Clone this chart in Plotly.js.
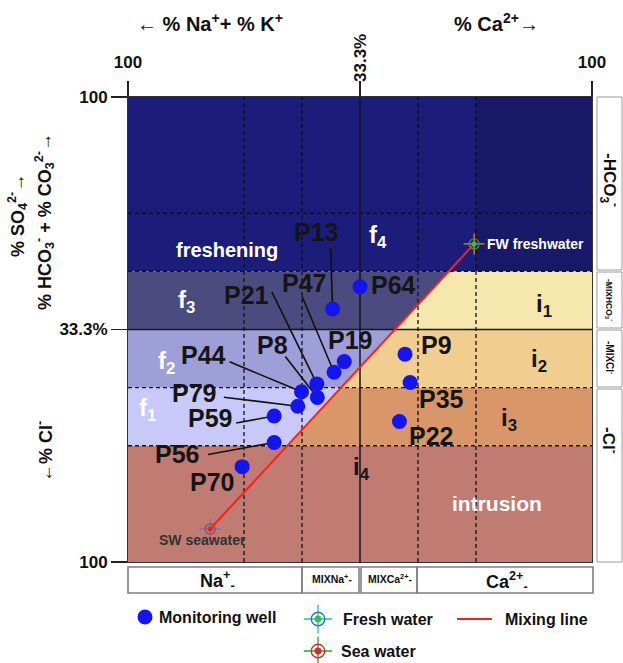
<!DOCTYPE html>
<html><head><meta charset="utf-8">
<script src="https://cdn.plot.ly/plotly-3.0.1.min.js"></script>
<style>html,body{margin:0;padding:0;background:#fff}</style>
</head><body><div id="chart" style="width:623px;height:663px"></div>
<script>
// ---------------- data (diagram position, 0-100) ----------------
const wells = ['P13','P64','P19','P47','P21','P8','P44','P79','P59','P56','P70','P9','P35','P22'];
const wellX = [44.1, 50.0, 46.6, 44.4, 40.7, 40.8, 37.4, 36.6, 31.5, 31.5, 24.6, 59.7, 60.8, 58.5];
const wellY = [54.4, 59.2, 43.1, 40.8, 38.3, 35.4, 36.6, 33.5, 31.4, 25.7, 20.5, 44.7, 38.6, 30.2];
const endNames = ['FW freshwater', 'SW seawater'];
const endX = [74.6, 17.7];
const endY = [68.4, 7.1];
const dashedLevels = [25, 37.5, 62.5, 75];
const solidLevel = 50;
const tickVals = [0, 50, 100];
const xTickText = ['100', '', '100'];
const yTickText = ['100', '33.3%', '100'];

// ---------------- layout helpers (label placement, px) ----------------
const labelDX = [-17, 33, 6, -30, -70, -45, -98, -104, -64, -97, -30, 31, 31, 32];
const labelDY = [-77, -2, -22, -89, -89, -52, -37, -13, 2, 12, 15, -9, 16, 14];
const leaderDX = [-2, null, null, -32, -45, -32, -72, -74, -38, -66, null, null, null, null];
const leaderDY = [-61, null, null, -76, -92, -41, -30, -9, 7, 12, null, null, null, null];

const FONT = 'Liberation Sans, Arial, Helvetica, sans-serif';
const C = {
  navy: '#1c1c7a', navyDark: '#19196a',
  f3: '#4b4b80', f2: '#9e9ed9', f1: '#c9c9f9',
  i1: '#f6e8ac', i2: '#f1cd8f', i3: '#d99668', i4: '#c07b73'
};

const uAt = v => endX[1] + (v - endY[1]) * (endX[0] - endX[1]) / (endY[0] - endY[1]);

const shapes = [];
function poly(pts, color) {
  shapes.push({type: 'path', xref: 'x', yref: 'y', layer: 'below',
    path: 'M' + pts.map(p => p[0] + ',' + p[1]).join(' L') + ' Z',
    fillcolor: color, line: {width: 0}});
}
poly([[0, 62.5], [0, 100], [75, 100], [75, 62.5]], C.navy);
poly([[75, 62.5], [75, 100], [100, 100], [100, 62.5]], C.navyDark);
[[50, 62.5, C.f3, C.i1], [37.5, 50, C.f2, C.i2], [25, 37.5, C.f1, C.i3]].forEach(b => {
  const lo = b[0], hi = b[1];
  poly([[0, lo], [0, hi], [uAt(hi), hi], [uAt(lo), lo]], b[2]);
  poly([[uAt(lo), lo], [uAt(hi), hi], [100, hi], [100, lo]], b[3]);
});
poly([[0, 0], [0, 25], [100, 25], [100, 0]], C.i4);

dashedLevels.forEach(l => {
  shapes.push({type: 'line', xref: 'x', yref: 'y', layer: 'below', x0: l, x1: l, y0: 0, y1: 100,
    line: {color: '#111', width: 1.3, dash: '4px,3px'}});
  shapes.push({type: 'line', xref: 'x', yref: 'y', layer: 'below', x0: 0, x1: 100, y0: l, y1: l,
    line: {color: '#111', width: 1.3, dash: '4px,3px'}});
});
shapes.push({type: 'line', xref: 'x', yref: 'y', layer: 'below', x0: solidLevel, x1: solidLevel, y0: 0, y1: 100,
  line: {color: '#151515', width: 1.5}});
shapes.push({type: 'line', xref: 'x', yref: 'y', layer: 'below', x0: 0, x1: 100, y0: solidLevel, y1: solidLevel,
  line: {color: '#151515', width: 1.5}});

// leader lines
wells.forEach((w, i) => {
  if (leaderDX[i] === null) return;
  shapes.push({type: 'line', xref: 'x', yref: 'y', layer: 'below',
    xsizemode: 'pixel', ysizemode: 'pixel', xanchor: wellX[i], yanchor: wellY[i],
    x0: leaderDX[i], y0: -leaderDY[i], x1: 0, y1: 0,
    line: {color: '#111', width: 1.6}});
});

// side boxes (pixel coords on x2/y2)
function box(x0, x1, y0, y1, col, w) {
  shapes.push({type: 'rect', xref: 'x2', yref: 'y2', x0: x0, x1: x1, y0: y0, y1: y1,
    line: {color: col, width: w}, fillcolor: 'rgba(0,0,0,0)'});
}
box(597, 622, 97, 270, '#9a9a9a', 1);
box(597, 622, 272, 328, '#9a9a9a', 1);
box(597, 622, 330, 387, '#9a9a9a', 1);
box(597, 622, 389, 562, '#9a9a9a', 1);
box(128, 302, 567, 593, '#808080', 1.6);
box(302, 359, 567, 593, '#808080', 1.6);
box(361, 417, 567, 593, '#808080', 1.6);
box(417, 593, 567, 593, '#808080', 1.6);
// legend mixing line
shapes.push({type: 'line', xref: 'x2', yref: 'y2', x0: 457, x1: 492, y0: 619, y1: 619,
  line: {color: '#ff1c1c', width: 2}});

// ---------------- traces ----------------
const traces = [];
traces.push({x: [endX[1], endX[0]], y: [endY[1], endY[0]], mode: 'lines',
  line: {color: '#ff1c1c', width: 2}, hoverinfo: 'skip', showlegend: false});
function target(x, y, xa, ya, ring, dot, s) {
  const base = {x: x, y: y, xaxis: xa, yaxis: ya, mode: 'markers', showlegend: false, hoverinfo: 'skip', cliponaxis: false};
  traces.push(Object.assign({}, base, {marker: {symbol: 'cross-thin-open', size: 15 * s, line: {color: ring, width: 1.3}}}));
  traces.push(Object.assign({}, base, {marker: {symbol: 'circle-open', size: 10 * s, line: {color: ring, width: 1.3}}}));
  traces.push(Object.assign({}, base, {marker: {symbol: 'circle', size: 5 * s, color: dot, line: {width: 0}}}));
}
target([endX[0]], [endY[0]], 'x', 'y', '#6f9c7c', '#2fbf5a', 1);
target([endX[1]], [endY[1]], 'x', 'y', '#8c6c6c', '#e02828', 1);
traces.push({x: wellX, y: wellY, text: wells, mode: 'markers', name: 'Monitoring well',
  marker: {color: '#1414f0', size: 15}, showlegend: false, cliponaxis: false});
// legend markers
traces.push({x: [145], y: [617], xaxis: 'x2', yaxis: 'y2', mode: 'markers', showlegend: false,
  hoverinfo: 'skip', marker: {color: '#1414f0', size: 15}});
target([318], [619], 'x2', 'y2', '#7fae8c', '#2fbf5a', 1.35);
target([318], [651], 'x2', 'y2', '#a07f7f', '#e02828', 1.35);

// ---------------- annotations ----------------
const ann = [];
function txt(x, y, text, size, color, extra) {
  ann.push(Object.assign({xref: 'x2', yref: 'y2', x: x, y: y, text: text, showarrow: false,
    font: {family: FONT, size: size, color: color, weight: 'bold'}}, extra || {}));
}
// titles
txt(210, 22, '← % Na<sup>+</sup>+ % K<sup>+</sup>', 20, '#111');
txt(496, 22, '% Ca<sup>2+</sup>→', 20, '#111');
txt(360, 58, '33.3%', 17, '#111', {textangle: -90});
txt(17, 216, '% SO<sub>4</sub><sup>2-</sup>→', 18, '#111', {textangle: -90});
txt(44, 222, '% HCO<sub>3</sub><sup>-</sup> + % CO<sub>3</sub><sup>2-</sup>→', 18, '#111', {textangle: -90});
txt(44, 452, '←% Cl<sup>-</sup>', 18, '#111', {textangle: -90});
// right boxes
txt(610, 180, '-HCO<sub>3</sub><sup>-</sup>', 17, '#111', {textangle: 90});
txt(610, 300, '-MIXHCO<sub>3</sub><sup>-</sup>', 8.5, '#111', {textangle: 90});
txt(610, 358, '-MIXCl<sup>-</sup>', 10, '#111', {textangle: 90});
txt(610, 440, '-Cl<sup>-</sup>', 17, '#111', {textangle: 90});
// bottom boxes
txt(217, 580, 'Na<sup>+</sup><sub>-</sub>', 18, '#111');
txt(332, 578, 'MIXNa<sup>+</sup>-', 10.5, '#111');
txt(390, 578, 'MIXCa<sup>2+</sup>-', 10.5, '#111');
txt(507, 581, 'Ca<sup>2+</sup><sub>-</sub>', 18, '#111');
// region labels
txt(227, 250, 'freshening', 20, '#ffffff');
txt(497, 503, 'intrusion', 21, '#ffffff');
txt(485, 244, endNames[0], 14, '#ffffff', {xanchor: 'left'});
txt(202, 540, endNames[1], 14, '#333333');
txt(378, 236, 'f<sub>4</sub>', 24, '#ffffff');
txt(186, 301, 'f<sub>3</sub>', 24, '#ffffff');
txt(166, 362, 'f<sub>2</sub>', 24, '#ffffff');
txt(147, 409, 'f<sub>1</sub>', 24, '#ffffff');
txt(544, 305, 'i<sub>1</sub>', 24, '#151515');
txt(539, 360, 'i<sub>2</sub>', 24, '#151515');
txt(509, 419, 'i<sub>3</sub>', 24, '#151515');
txt(361, 468, 'i<sub>4</sub>', 24, '#151515');
// legend texts
txt(157, 617, 'Monitoring well', 16, '#111', {xanchor: 'left'});
txt(341, 619, 'Fresh water', 16, '#111', {xanchor: 'left'});
txt(503, 619, 'Mixing line', 16, '#111', {xanchor: 'left'});
txt(339, 651, 'Sea water', 16, '#111', {xanchor: 'left'});
// well labels
wells.forEach((w, i) => {
  ann.push({xref: 'x', yref: 'y', x: wellX[i], y: wellY[i], text: w, showarrow: false,
    xshift: labelDX[i], yshift: -labelDY[i],
    font: {family: FONT, size: 25, color: '#151515', weight: 'bold'}});
});

const layout = {
  width: 623, height: 663,
  margin: {l: 0, r: 0, t: 0, b: 0},
  paper_bgcolor: '#ffffff', plot_bgcolor: 'rgba(0,0,0,0)',
  showlegend: false,
  xaxis: {domain: [128 / 623, 592 / 623], range: [0, 100], anchor: 'y', side: 'top',
    tickvals: tickVals, ticktext: xTickText, ticks: 'outside', ticklen: 15, tickwidth: 1.3, tickcolor: '#222',
    ticklabelstandoff: 6,
    tickfont: {family: FONT, size: 17, color: '#111', weight: 'bold'},
    showgrid: false, zeroline: false, showline: true, mirror: true, linecolor: '#333', linewidth: 1, fixedrange: true},
  yaxis: {domain: [(663 - 562) / 663, (663 - 97) / 663], range: [0, 100], anchor: 'x',
    tickvals: tickVals, ticktext: yTickText, ticks: 'outside', ticklen: 16, tickwidth: 1.3, tickcolor: '#222',
    tickfont: {family: FONT, size: 17, color: '#111', weight: 'bold'},
    showgrid: false, zeroline: false, showline: true, mirror: true, linecolor: '#333', linewidth: 1, fixedrange: true},
  xaxis2: {domain: [0, 1], range: [0, 623], anchor: 'y2', visible: false, fixedrange: true},
  yaxis2: {domain: [0, 1], range: [663, 0], anchor: 'x2', visible: false, fixedrange: true},
  shapes: shapes,
  annotations: ann
};
Plotly.newPlot('chart', traces, layout, {displayModeBar: false, staticPlot: true});
</script></body></html>
